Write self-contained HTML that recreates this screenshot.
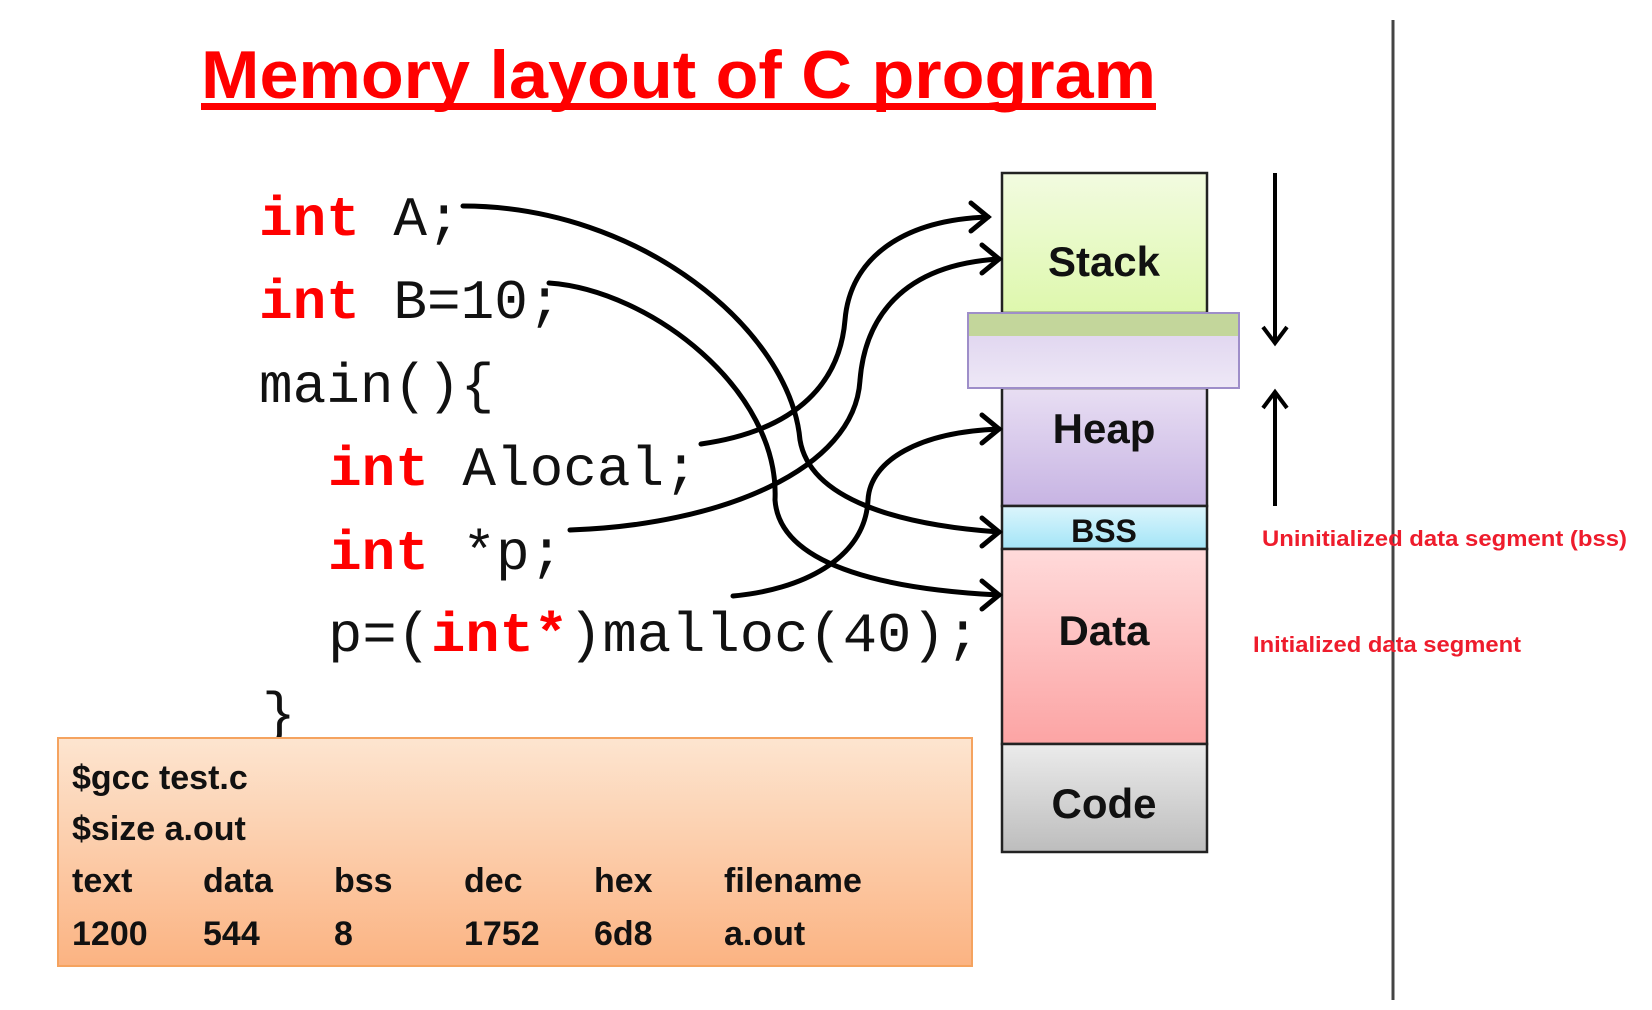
<!DOCTYPE html>
<html><head><meta charset="utf-8"><style>
html,body{margin:0;padding:0;background:#fff;}
svg{display:block;}
</style></head><body>
<svg width="1652" height="1010" viewBox="0 0 1652 1010" xmlns="http://www.w3.org/2000/svg">
<defs>
<linearGradient id="gs" x1="0" y1="0" x2="0" y2="1"><stop offset="0" stop-color="#f2fbe0"/><stop offset="1" stop-color="#def8ad"/></linearGradient>
<linearGradient id="gb" x1="0" y1="0" x2="0" y2="1"><stop offset="0" stop-color="#dcd0ee"/><stop offset="1" stop-color="#eee8f6"/></linearGradient>
<linearGradient id="gh" x1="0" y1="0" x2="0" y2="1"><stop offset="0" stop-color="#e8def3"/><stop offset="1" stop-color="#c7b4e3"/></linearGradient>
<linearGradient id="gbs" x1="0" y1="0" x2="0" y2="1"><stop offset="0" stop-color="#dcf5fc"/><stop offset="1" stop-color="#a3e5f7"/></linearGradient>
<linearGradient id="gd" x1="0" y1="0" x2="0" y2="1"><stop offset="0" stop-color="#ffdada"/><stop offset="1" stop-color="#fca4a4"/></linearGradient>
<linearGradient id="gc" x1="0" y1="0" x2="0" y2="1"><stop offset="0" stop-color="#ebebeb"/><stop offset="1" stop-color="#bdbdbd"/></linearGradient>
<linearGradient id="go" x1="0" y1="0" x2="0" y2="1"><stop offset="0" stop-color="#fde5d0"/><stop offset="1" stop-color="#fbb382"/></linearGradient>
</defs>

<text x="201" y="98" font-family="Liberation Sans, sans-serif" font-weight="bold" font-size="68" fill="#ff0000" textLength="955" lengthAdjust="spacingAndGlyphs">Memory layout of C program</text>
<rect x="201" y="103" width="955" height="7" fill="#ff0000"/>

<line x1="1393" y1="20" x2="1393" y2="1000" stroke="#444" stroke-width="3"/>

<g font-family="Liberation Mono, monospace" font-size="56">
<text x="259" y="235"><tspan fill="#f00" font-weight="bold">int</tspan><tspan fill="#111"> A;</tspan></text>
<text x="259" y="318"><tspan fill="#f00" font-weight="bold">int</tspan><tspan fill="#111"> B=10;</tspan></text>
<text x="259" y="402" fill="#111">main(){</text>
<text x="328" y="485"><tspan fill="#f00" font-weight="bold">int</tspan><tspan fill="#111"> Alocal;</tspan></text>
<text x="328" y="569"><tspan fill="#f00" font-weight="bold">int</tspan><tspan fill="#111"> *p;</tspan></text>
<text x="328" y="651" textLength="652" lengthAdjust="spacingAndGlyphs"><tspan fill="#111">p=(</tspan><tspan fill="#f00" font-weight="bold">int*</tspan><tspan fill="#111">)malloc(40);</tspan></text>
<text x="262" y="731" fill="#111">}</text>
</g>

<rect x="58" y="738" width="914" height="228" fill="url(#go)" stroke="#f5a35f" stroke-width="2"/>
<g font-family="Liberation Sans, sans-serif" font-weight="bold" font-size="34" fill="#111">
<text x="72" y="789">$gcc  test.c</text>
<text x="72" y="840">$size a.out</text>
<text x="72" y="892">text</text><text x="203" y="892">data</text><text x="334" y="892">bss</text><text x="464" y="892">dec</text><text x="594" y="892">hex</text><text x="724" y="892">filename</text>
<text x="72" y="945">1200</text><text x="203" y="945">544</text><text x="334" y="945">8</text><text x="464" y="945">1752</text><text x="594" y="945">6d8</text><text x="724" y="945">a.out</text>
</g>

<g stroke="#222" stroke-width="2.5">
<rect x="1002" y="173" width="205" height="140" fill="url(#gs)"/>
<rect x="1002" y="388" width="205" height="118" fill="url(#gh)"/>
<rect x="1002" y="506" width="205" height="43" fill="url(#gbs)"/>
<rect x="1002" y="549" width="205" height="195" fill="url(#gd)"/>
<rect x="1002" y="744" width="205" height="108" fill="url(#gc)"/>
</g>
<rect x="968" y="313" width="271" height="75" fill="url(#gb)" stroke="#9e8ec9" stroke-width="2"/>
<rect x="969" y="314" width="269" height="22" fill="#c3d69b"/>

<g font-family="Liberation Sans, sans-serif" font-weight="bold" fill="#111" text-anchor="middle">
<text x="1104" y="276" font-size="42">Stack</text>
<text x="1104" y="443" font-size="42">Heap</text>
<text x="1104" y="542" font-size="32">BSS</text>
<text x="1104" y="645" font-size="42">Data</text>
<text x="1104" y="818" font-size="42">Code</text>
</g>

<g stroke="#000" stroke-width="4" fill="none">
<line x1="1275" y1="173" x2="1275" y2="343"/>
<polyline points="1263,327 1275,343 1287,327"/>
<line x1="1275" y1="506" x2="1275" y2="392"/>
<polyline points="1263,408 1275,392 1287,408"/>
</g>

<g font-family="Liberation Sans, sans-serif" font-weight="bold" font-size="22" fill="#ee1c2c">
<text x="1262" y="546" textLength="365" lengthAdjust="spacingAndGlyphs">Uninitialized data segment  (bss)</text>
<text x="1253" y="652" textLength="268" lengthAdjust="spacingAndGlyphs">Initialized data segment</text>
</g>

<g stroke="#000" stroke-width="5" fill="none" stroke-linecap="round">
<path d="M463,206 C640,206 790,330 800,440 C810,500 900,525 999,532"/>
<polyline points="982,518 999,532 982,546"/>
<path d="M549,283 C650,290 780,390 775,500 C780,570 900,590 999,595"/>
<polyline points="982,581 999,595 982,609"/>
<path d="M701,444 C800,430 840,380 845,320 C850,260 900,220 988,217"/>
<polyline points="971,203 988,217 971,231"/>
<path d="M570,530 C720,525 855,470 860,380 C865,320 900,265 999,259"/>
<polyline points="982,245 999,259 982,273"/>
<path d="M733,596 C800,590 865,560 868,500 C870,460 920,432 999,429"/>
<polyline points="982,415 999,429 982,443"/>
</g>
</svg>
</body></html>
